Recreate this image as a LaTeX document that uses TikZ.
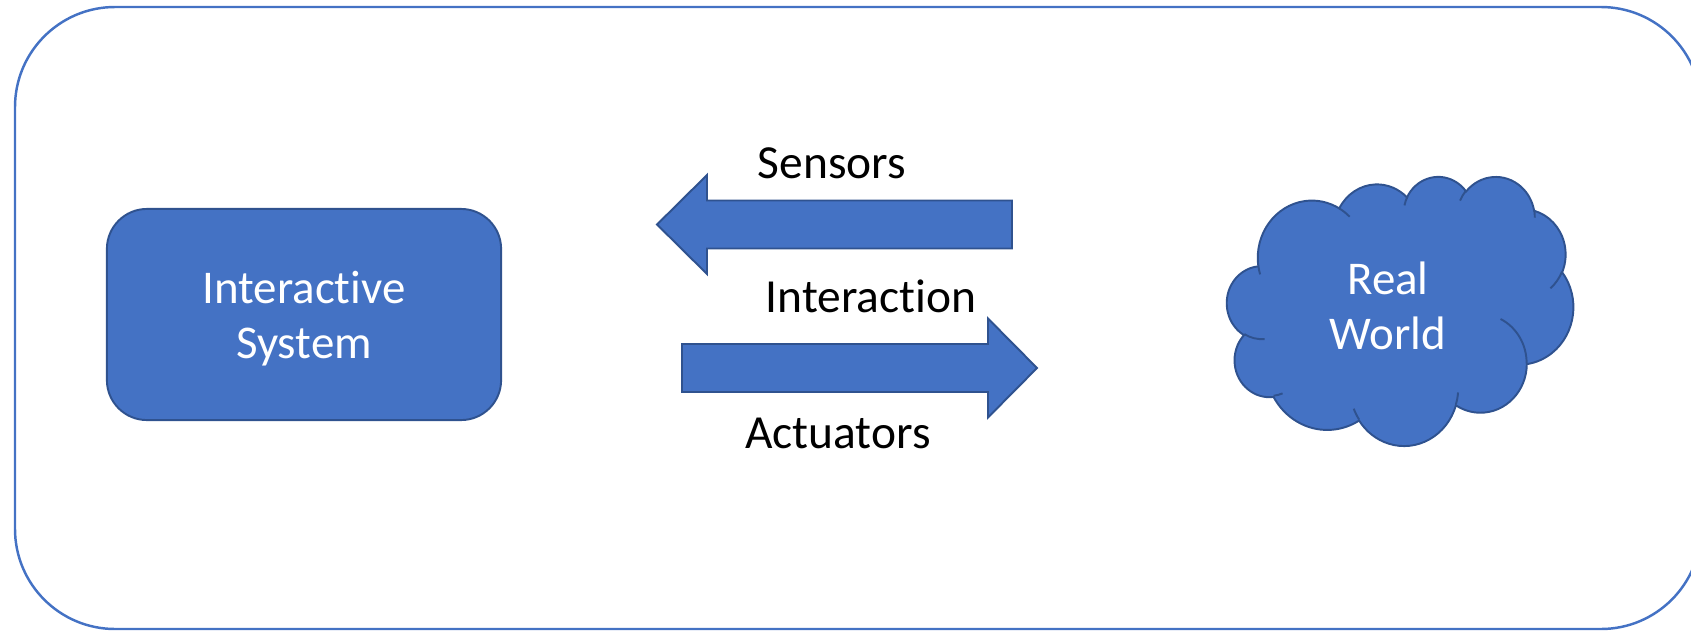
\documentclass[tikz,border=0pt]{standalone}
\usepackage{fontspec}
\setmainfont{Carlito}[Ligatures=NoCommon]
\definecolor{accent}{HTML}{4472C4}
\definecolor{accentdark}{HTML}{2F528F}
% parametric angle of the ellipse point seen from the centre at angle #3
\newcommand\lobeang[3]{atan2((#1)*sin(#3),(#2)*cos(#3))+360*round(((#3)-atan2((#1)*sin(#3),(#2)*cos(#3)))/360)}
% elliptic lobe: x radius, y radius, start direction, sweep
\newcommand\lobe[4]{arc[x radius=#1, y radius=#2, start angle={\lobeang{#1}{#2}{#3}}, end angle={\lobeang{#1}{#2}{#3+#4}}]}
\begin{document}
\begin{tikzpicture}[x=0.01cm, y=-0.01cm,
  frame/.style={draw=accent, line width=0.7pt, rounded corners=1cm},
  shapeline/.style={draw=accentdark, line width=0.55pt},
  sysbox/.style={shapeline, fill=accent, rounded corners=0.4cm,
    minimum width=3.94cm, minimum height=2.11cm, inner sep=0pt},
  boxtext/.style={text=white, align=center, inner sep=0pt,
    font=\fontsize{13.35pt}{15.6pt}\selectfont},
  blockarrow/.style={shapeline, fill=accent, line join=miter},
  cloudshape/.style={shapeline, fill=accent},
  cloudline/.style={draw=accentdark, line width=0.55pt},
  flowtext/.style={text=black, inner sep=0pt, anchor=base,
    font=\fontsize{13.5pt}{15.6pt}\selectfont}]

\useasboundingbox (0,0) rectangle (1691,630);
\clip (0,0) rectangle (1691,630);

% outer rounded frame
\draw[frame] (15,7) rectangle (1701,629);

% interactive system block
\node[sysbox] (sys) at (304,314.5) {};
\node[boxtext] (systext) at (304,318.5) {Interactive\\System};

% sensors: block arrow pointing left
\draw[blockarrow] (657,224.5) -- (707,175) -- (707,200.5) -- (1012,200.5)
  -- (1012,248.5) -- (707,248.5) -- (707,274) -- cycle;
% actuators: block arrow pointing right
\draw[blockarrow] (1037,368) -- (988,318.5) -- (988,344) -- (682,344)
  -- (682,392) -- (988,392) -- (988,417.5) -- cycle;

\node[flowtext] (sensors) at (832,178) {Sensors};
\node[flowtext] (interaction) at (871,312) {Interaction};
\node[flowtext] (actuators) at (838,448) {Actuators};

% cloud outline, built from eleven elliptic lobes
\begin{scope}[shift={(1227,176)}, x=0.0080093cm, y=-0.0062269cm]
  \draw[cloudshape] (39.00,143.70)
    \lobe{67.53}{91.90}{-190.4875}{123.7805}
    \lobe{53.33}{72.67}{-144.1024}{89.9452}
    \lobe{43.65}{59.45}{-145.8079}{99.7230}
    \lobe{48.57}{65.95}{-130.9861}{117.2417}
    \lobe{53.33}{72.73}{-78.7089}{109.0269}
    \lobe{67.75}{92.20}{-46.2673}{130.2690}
    \lobe{57.85}{78.67}{0.6250}{114.0333}
    \lobe{67.52}{92.15}{22.4516}{115.1726}
    \lobe{77.20}{105.43}{66.2426}{75.7110}
    \lobe{43.60}{59.18}{-274.9421}{146.7356}
    \lobe{43.45}{59.45}{-246.8285}{152.5189}
    -- cycle;
  % inner lobe strokes
  \draw[cloudline]
    (46.93,261.77) \lobe{43.45}{59.45}{86.7420}{26.4295}
    (69.28,348.99) \lobe{43.60}{59.18}{73.6105}{11.4475}
    (164.78,390.90) \lobe{67.52}{92.15}{137.6242}{14.0811}
    (288.27,347.51) \lobe{67.52}{92.15}{6.4533}{15.9984}
    (341.29,229.54) \lobe{57.85}{78.67}{-70.2924}{70.9174}
    (417.98,153.54) \lobe{53.33}{72.73}{30.3180}{27.7515}
    (383.24,54.26) \lobe{48.57}{65.95}{-13.7443}{14.8589}
    (290.78,39.52) \lobe{48.57}{65.95}{-149.1815}{18.1954}
    (221.41,47.20) \lobe{43.65}{59.45}{-163.4943}{17.6864}
    (140.00,51.92) \lobe{67.53}{91.90}{-66.7070}{12.3194}
    (41.27,157.89) \lobe{67.53}{91.90}{157.6544}{11.8582};
\end{scope}

\node[boxtext] (world) at (1388,306) {Real\\World};

\end{tikzpicture}
\end{document}
